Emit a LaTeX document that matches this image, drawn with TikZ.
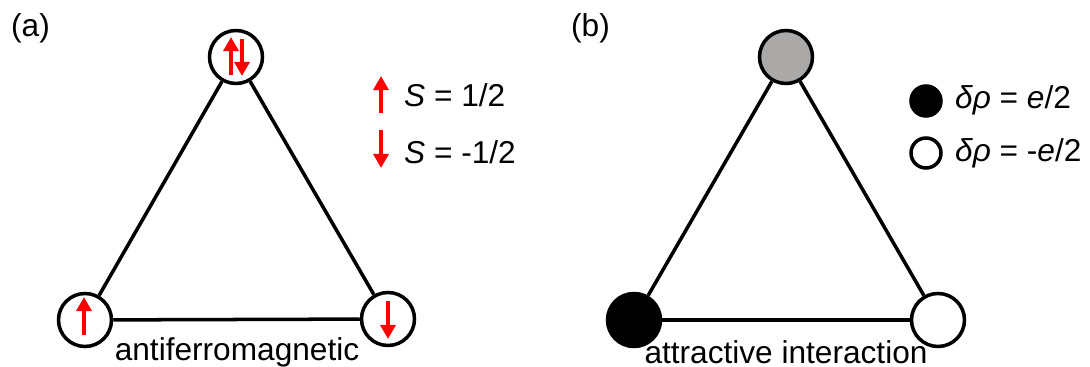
\documentclass[tikz,border=0pt]{standalone}
\usepackage{fontspec}
\setmainfont{Liberation Sans}
\usetikzlibrary{arrows.meta,calc}
\definecolor{sitegray}{RGB}{171,168,168}
\begin{document}
\begin{tikzpicture}[x=0.02cm, y=-0.02cm,
      site/.style={circle, draw, line width=2pt, minimum size=1.06cm, inner sep=0pt, fill=white},
      bond/.style={line width=2pt},
      spin/.style={red, line width=2pt, -{Triangle[length=8pt, width=8.5pt]}},
      lbl/.style={font=\fontsize{18}{21}\selectfont},
      caption/.style={lbl, inner sep=0pt},
      dot/.style={circle, draw, line width=2pt, minimum size=0.6cm, inner sep=0pt}
    ]
    \useasboundingbox (0,0) rectangle (1090,367);

    % (a) spins on a triangle
    \node[lbl, anchor=west] (pa) at (5,28) {(a)};
    \node[site] (at) at (236,57) {};
    \node[site] (al) at (85,320) {};
    \node[site] (ar) at (388,319) {};
    \draw[bond] (at)--(al);
    \draw[bond] (at)--(ar);
    \draw[bond] (al)--(ar);
    \draw[spin] ($(at)+(-5,18)$)--($(at)+(-5,-20)$);
    \draw[spin] ($(at)+(6,-18)$)--($(at)+(6,19)$);
    \draw[spin] ($(al)+(-1,15)$)--($(al)+(-1,-23)$);
    \draw[spin] ($(ar)+(0,-18)$)--($(ar)+(0,20)$);
    \node[caption] (na) at (237,352) {antiferromagnetic};

    % legend (a)
    \draw[spin] (381,113)--(381,76);
    \node[lbl, anchor=west] (su) at (398,95) {\textit{S} = 1/2};
    \draw[spin] (381,130)--(381,168);
    \node[lbl, anchor=west] (sd) at (398,152) {\textit{S} = -1/2};

    % (b) charges on a triangle
    \node[lbl, anchor=west] (pb) at (565,28) {(b)};
    \node[site, fill=sitegray] (bt) at (786,57) {};
    \node[site, fill=black] (bl) at (634,320) {};
    \node[site] (br) at (938,320) {};
    \draw[bond] (bt)--(bl);
    \draw[bond] (bt)--(br);
    \draw[bond] (bl)--(br);
    \node[caption] (nb) at (786,352) {attractive interaction};

    % legend (b)
    \node[dot, fill=black] (dp) at (926,101) {};
    \node[lbl, anchor=west] (tp) at (949,100) {\textit{δρ} = \textit{e}/2};
    \node[dot] (dm) at (926,153) {};
    \node[lbl, anchor=west] (tm) at (949,153) {\textit{δρ} = -\textit{e}/2};
  \end{tikzpicture}
\end{document}
